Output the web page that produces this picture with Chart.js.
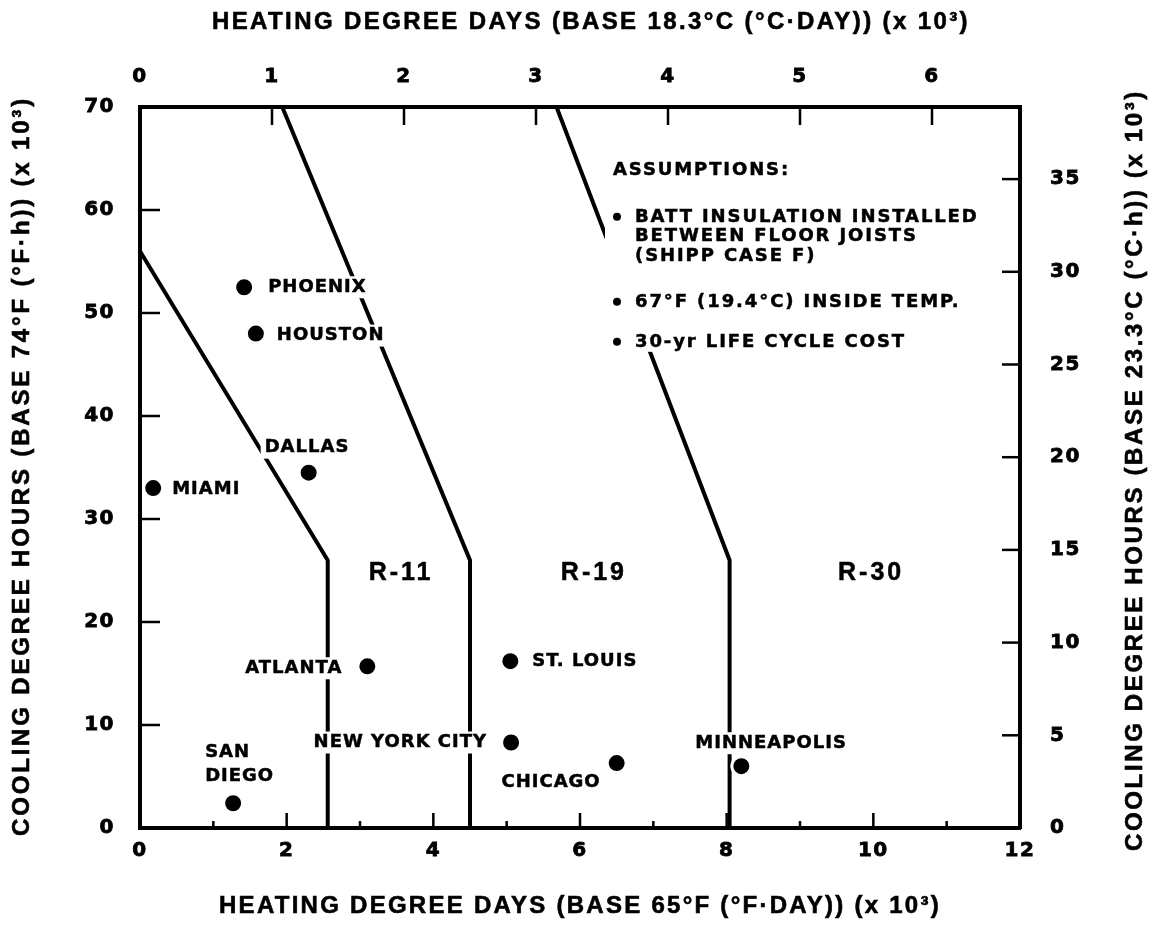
<!DOCTYPE html>
<html>
<head>
<meta charset="utf-8">
<title>Insulation level vs. heating and cooling degree days</title>
<script src="https://cdn.jsdelivr.net/npm/chart.js@4.4.1/dist/chart.umd.min.js"></script>
<style>
    html, body { margin: 0; padding: 0; background: #fff; }
    canvas { display: block; }
</style>
</head>
<body>
<canvas id="chart" width="1154" height="939"></canvas>
<script>
"use strict";

// ------------------------------------------------------- //
// Data (HDD in 10^3 °F-day, CDH in 10^3 °F-h)
// ------------------------------------------------------ //
var cityNames = ["PHOENIX", "HOUSTON", "DALLAS", "MIAMI", "ATLANTA", "ST. LOUIS",
                 "NEW YORK CITY", "SAN\nDIEGO", "CHICAGO", "MINNEAPOLIS"];
var cityHDD = [1.42, 1.58, 2.3, 0.18, 3.1, 5.05, 5.06, 1.27, 6.5, 8.2];
var cityCDH = [52.5, 48.0, 34.5, 33.0, 15.7, 16.2, 8.3, 2.4, 6.3, 6.0];

// boundaries between insulation levels
var r11EdgeHDD = [0, 2.56, 2.56];
var r11EdgeCDH = [56, 26, 0];
var r19EdgeHDD = [1.94, 4.5, 4.5];
var r19EdgeCDH = [70, 26, 0];
var r30EdgeHDD = [5.68, 8.04, 8.04];
var r30EdgeCDH = [70, 26, 0];

var zoneNames = ["R-11", "R-19", "R-30"];
var zoneHDD = [3.56, 6.19, 9.97];
var zoneCDH = [24.7, 24.7, 24.7];

// tick values
var hddTicks = [0, 1, 2, 3, 4, 5, 6, 7, 8, 9, 10, 11, 12];
var hddCTicks = [0, 1, 2, 3, 4, 5, 6];
var cdhTicks = [0, 10, 20, 30, 40, 50, 60, 70];
var cdhCTicks = [0, 5, 10, 15, 20, 25, 30, 35];

var assumptionLines = ["ASSUMPTIONS:", "BATT INSULATION INSTALLED", "BETWEEN FLOOR JOISTS",
                       "(SHIPP CASE F)", "67°F (19.4°C) INSIDE TEMP.", "30-yr LIFE CYCLE COST"];
var assumptionBullet = [false, true, false, false, true, true];

// label placement: [dx, dy, align] from the city dot, in px
var cityLabelPlace = [
    [24, 0, "left"], [21, 2, "left"], [-44, -25, "left"], [19, 1, "left"],
    [-25, 2, "right"], [22, 0, "left"], [-24, 0, "right"], [-28, -51, "left"],
    [-16, 19, "right"], [-46, -23, "left"]
];

function toXY(xs, ys) {
    return xs.map(function (v, i) { return { x: v, y: ys[i] }; });
}

var labelFont = '700 18px "DejaVu Sans"';
var titleFont = '700 24px "Liberation Sans"';

function drawLabel(ctx, text, x, y, align) {
    var w = ctx.measureText(text).width;
    var left = align === "right" ? x - w : x;
    ctx.fillStyle = "#fff";
    ctx.fillRect(left - 4, y - 11, w + 8, 22);
    ctx.fillStyle = "#000";
    ctx.textAlign = "left";
    ctx.fillText(text, left, y);
    ctx.strokeText(text, left, y);
}

function drawFitted(ctx, text, cx, cy, width, angle) {
    ctx.save();
    ctx.translate(cx, cy);
    ctx.rotate(angle);
    ctx.font = titleFont;
    ctx.letterSpacing = "0px";
    var w0 = ctx.measureText(text).width;
    var n = Array.from(text).length;
    ctx.letterSpacing = ((width - w0) / n) + "px";
    ctx.textAlign = "center";
    ctx.textBaseline = "middle";
    ctx.fillStyle = "#000";
    ctx.strokeStyle = "#000";
    ctx.lineWidth = 0.6;
    ctx.fillText(text, 0, 0);
    ctx.strokeText(text, 0, 0);
    ctx.restore();
}

// slightly spaced digits on the axes (scales are drawn between beforeDraw and beforeDatasetsDraw)
var wideTicks = {
    id: "wideTicks",
    beforeDraw: function (chart) { chart.ctx.letterSpacing = "1.5px"; },
    beforeDatasetsDraw: function (chart) { chart.ctx.letterSpacing = "0px"; }
};

// inward tick marks
var innerTicks = {
    id: "innerTicks",
    beforeDatasetsDraw: function (chart) {
        var ctx = chart.ctx;
        var a = chart.chartArea;
        var lens = {
            x: function (v) { return v % 2 === 0 ? 15 : 7; },
            x2: function () { return 18; },
            y: function () { return 20; },
            y2: function () { return 18; }
        };
        ctx.save();
        ctx.strokeStyle = "#000";
        ctx.lineWidth = 2.5;
        Object.keys(lens).forEach(function (id) {
            var s = chart.scales[id];
            s.ticks.forEach(function (t) {
                if (t.value <= s.min || t.value >= s.max) return;
                var p = s.getPixelForValue(t.value);
                var l = lens[id](t.value);
                ctx.beginPath();
                if (id === "x") { ctx.moveTo(p, a.bottom); ctx.lineTo(p, a.bottom - l); }
                if (id === "x2") { ctx.moveTo(p, a.top); ctx.lineTo(p, a.top + l); }
                if (id === "y") { ctx.moveTo(a.left, p); ctx.lineTo(a.left + l, p); }
                if (id === "y2") { ctx.moveTo(a.right, p); ctx.lineTo(a.right - l, p); }
                ctx.stroke();
            });
        });
        ctx.restore();
    }
};

// city names, zone names, assumptions and axis titles
var annotations = {
    id: "annotations",
    afterDatasetsDraw: function (chart) {
        var ctx = chart.ctx;
        var x = chart.scales.x, y = chart.scales.y;
        ctx.save();
        ctx.font = labelFont;
        ctx.textBaseline = "middle";
        ctx.strokeStyle = "#000";
        ctx.lineWidth = 0.5;
        ctx.letterSpacing = "1px";
        cityNames.forEach(function (name, i) {
            var px = x.getPixelForValue(cityHDD[i]);
            var py = y.getPixelForValue(cityCDH[i]);
            var p = cityLabelPlace[i];
            name.split("\n").forEach(function (line, k) {
                drawLabel(ctx, line, px + p[0], py + p[1] + k * 24, p[2]);
            });
        });

        // assumptions block
        var ax = x.getPixelForValue(6.45), ay = y.getPixelForValue(63.9);
        var rows = [0, 47, 66, 86, 132, 172];
        ctx.fillStyle = "#fff";
        ctx.fillRect(ax - 8, ay - 14, 378, 196);
        ctx.letterSpacing = "1.9px";
        ctx.fillStyle = "#000";
        ctx.textAlign = "left";
        assumptionLines.forEach(function (line, i) {
            var dx = i === 0 ? 0 : 22;
            ctx.fillText(line, ax + dx, ay + rows[i]);
            ctx.strokeText(line, ax + dx, ay + rows[i]);
            if (assumptionBullet[i]) {
                ctx.beginPath();
                ctx.arc(ax + 4, ay + rows[i], 4, 0, Math.PI * 2);
                ctx.fill();
            }
        });

        // zone labels
        ctx.font = '700 25px "Liberation Sans"';
        ctx.letterSpacing = "3px";
        ctx.textAlign = "center";
        zoneNames.forEach(function (z, i) {
            var zx = x.getPixelForValue(zoneHDD[i]), zy = y.getPixelForValue(zoneCDH[i]);
            ctx.fillText(z, zx, zy);
            ctx.strokeText(z, zx, zy);
        });
        ctx.restore();

        drawFitted(ctx, "HEATING DEGREE DAYS (BASE 18.3°C (°C·DAY)) (x 10³)", 591, 22, 758, 0);
        drawFitted(ctx, "HEATING DEGREE DAYS (BASE 65°F (°F·DAY)) (x 10³)", 580, 906, 722, 0);
        drawFitted(ctx, "COOLING DEGREE HOURS (BASE 74°F (°F·h)) (x 10³)", 22, 466, 740, -Math.PI / 2);
        drawFitted(ctx, "COOLING DEGREE HOURS (BASE 23.3°C (°C·h)) (x 10³)", 1135, 470, 762, -Math.PI / 2);
    }
};

document.addEventListener("DOMContentLoaded", function () {
    var tickFont = { family: "DejaVu Sans", size: 20, weight: "bold" };
    var axisBorder = { display: true, color: "#000", width: 4 };

    function fixedTicks(values) {
        return function (scale) {
            scale.ticks = values.map(function (v) { return { value: v }; });
        };
    }

    function tickStyle(padding) {
        return {
            autoSkip: false, maxRotation: 0, color: "#000", font: tickFont, padding: padding,
            textStrokeColor: "#000", textStrokeWidth: 0.8
        };
    }

    var edgeStyle = {
        showLine: true,
        pointRadius: 0,
        borderColor: "#000",
        borderWidth: 4,
        fill: false,
        xAxisID: "x",
        yAxisID: "y"
    };

    new Chart(document.getElementById("chart"), {
        type: "scatter",
        data: {
            datasets: [
                {
                    label: "Cities",
                    data: toXY(cityHDD, cityCDH),
                    pointRadius: 9.5,
                    pointBackgroundColor: "#000",
                    pointBorderColor: "#fff",
                    pointBorderWidth: 3,
                    xAxisID: "x",
                    yAxisID: "y"
                },
                Object.assign({ label: "R-11 edge", data: toXY(r11EdgeHDD, r11EdgeCDH) }, edgeStyle),
                Object.assign({ label: "R-19 edge", data: toXY(r19EdgeHDD, r19EdgeCDH) }, edgeStyle),
                Object.assign({ label: "R-30 edge", data: toXY(r30EdgeHDD, r30EdgeCDH) }, edgeStyle)
            ]
        },
        options: {
            responsive: false,
            animation: false,
            devicePixelRatio: 1,
            layout: { padding: 0 },
            plugins: {
                legend: { display: false },
                tooltip: { enabled: false }
            },
            scales: {
                x: {
                    type: "linear", position: "bottom", min: 0, max: 12,
                    grid: { display: false },
                    border: axisBorder,
                    afterBuildTicks: fixedTicks(hddTicks),
                    afterFit: function (s) { s.height = 111; },
                    ticks: Object.assign(tickStyle(3), {
                        callback: function (v) { return v % 2 === 0 ? String(v) : ""; }
                    })
                },
                x2: {
                    type: "linear", position: "top", min: 0, max: 12 / 1.8,
                    grid: { display: false },
                    border: axisBorder,
                    afterBuildTicks: fixedTicks(hddCTicks),
                    afterFit: function (s) { s.height = 107; },
                    ticks: tickStyle(10)
                },
                y: {
                    type: "linear", position: "left", min: 0, max: 70,
                    grid: { display: false },
                    border: axisBorder,
                    afterBuildTicks: fixedTicks(cdhTicks),
                    afterFit: function (s) { s.width = 140; },
                    ticks: tickStyle(17)
                },
                y2: {
                    type: "linear", position: "right", min: 0, max: 70 / 1.8,
                    grid: { display: false },
                    border: axisBorder,
                    afterBuildTicks: fixedTicks(cdhCTicks),
                    afterFit: function (s) { s.width = 134; },
                    ticks: tickStyle(22)
                }
            }
        },
        plugins: [wideTicks, innerTicks, annotations]
    });
});
</script>
</body>
</html>
